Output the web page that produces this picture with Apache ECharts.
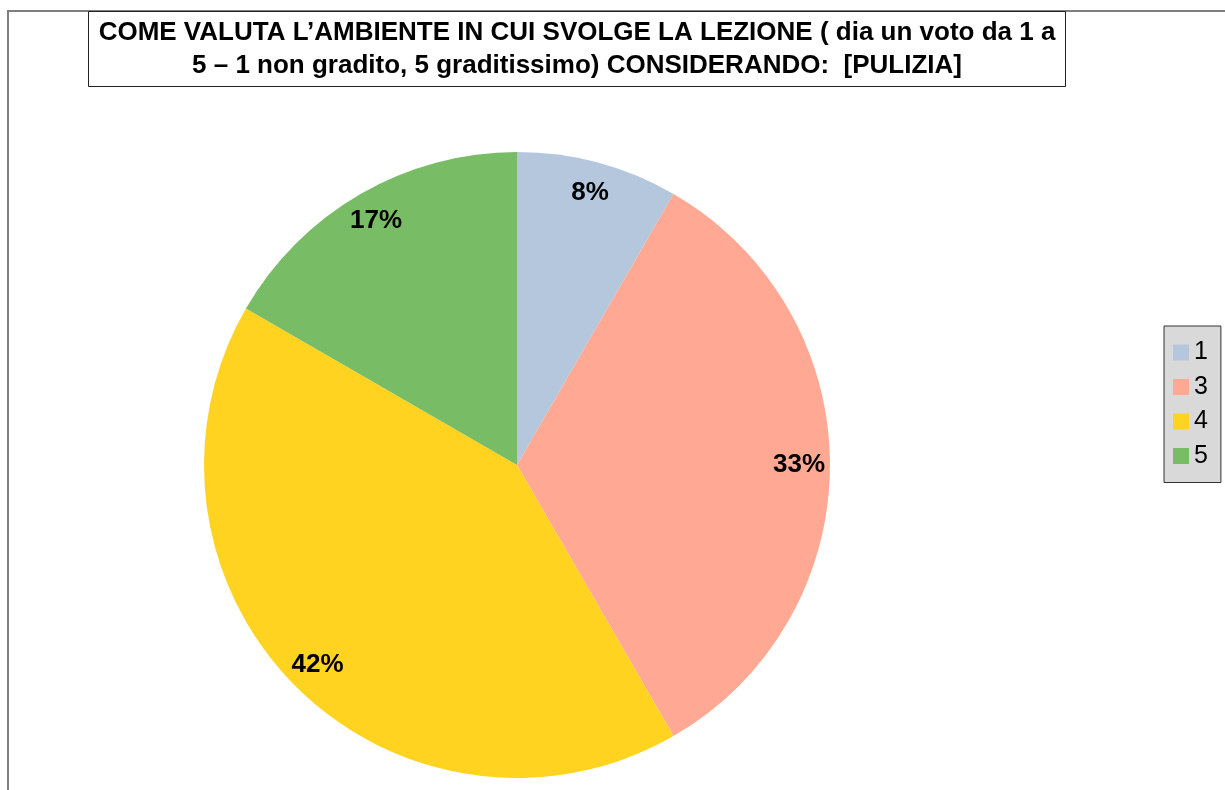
<!DOCTYPE html>
<html>
<head>
<meta charset="utf-8">
<script src="https://cdn.jsdelivr.net/npm/echarts@6/dist/echarts.min.js"></script>
<style>
  html, body { margin: 0; padding: 0; background: #fff; }
  #main { width: 1225px; height: 790px; }
</style>
</head>
<body>
<div id="main"></div>
<script>
// voti e numero di risposte (1/12, 4/12, 5/12, 2/12)
const voti = ['1', '3', '4', '5'];
const risposte = [1, 4, 5, 2];
const colori = ['#b4c7dc', '#ffa994', '#ffd320', '#78bc65'];

const titolo = 'COME VALUTA L\u2019AMBIENTE IN CUI SVOLGE LA LEZIONE ( dia un voto da 1 a\n5 \u2013 1 non gradito, 5 graditissimo) CONSIDERANDO:  [PULIZIA]';

const dati = voti.map((v, i) => ({ name: v, value: risposte[i], itemStyle: { color: colori[i] } }));

let myChart = echarts.init(document.getElementById('main'));
let option = {
    animation: false,
    textStyle: { fontFamily: 'Liberation Sans, Arial, sans-serif' },
    graphic: [{
        // cornice esterna
        type: 'polyline',
        shape: { points: [[8, 790], [8, 11], [1225, 11]] },
        style: { stroke: '#7f7f7f', lineWidth: 2, fill: null },
        z: 0
    }],
    title: {
        text: titolo,
        left: 567,
        top: 11,
        textAlign: 'center',
        padding: [5, 10, 5, 10],
        borderColor: '#222',
        borderWidth: 1,
        backgroundColor: '#fff',
        textStyle: {
            fontFamily: 'Liberation Sans, Arial, sans-serif',
            fontSize: 26,
            fontWeight: 'bold',
            color: '#000',
            lineHeight: 33
        }
    },
    legend: {
        orient: 'vertical',
        left: 1164,
        top: 326,
        data: voti,
        itemWidth: 16,
        itemHeight: 16,
        itemGap: 9.5,
        padding: [14, 13, 14, 9],
        backgroundColor: '#d9d9d9',
        borderColor: '#333',
        borderWidth: 1,
        icon: 'rect',
        selectedMode: false,
        textStyle: {
            fontFamily: 'Liberation Sans, Arial, sans-serif',
            fontSize: 25,
            lineHeight: 25,
            color: '#000'
        }
    },
    series: [{
        type: 'pie',
        center: [517, 465],
        radius: [0, 313],
        startAngle: 90,
        clockwise: true,
        data: dati,
        label: { show: false },
        labelLine: { show: false },
        emphasis: { disabled: true }
    }, {
        // anello trasparente usato solo per le percentuali
        type: 'pie',
        center: [517, 465],
        radius: [245, 313],
        startAngle: 90,
        clockwise: true,
        silent: true,
        data: voti.map((v, i) => ({ name: v, value: risposte[i] })),
        itemStyle: { color: 'rgba(0,0,0,0)' },
        label: {
            show: true,
            position: 'inside',
            formatter: p => Math.round(p.percent) + '%',
            fontFamily: 'Liberation Sans, Arial, sans-serif',
            fontSize: 26,
            fontWeight: 'bold',
            color: '#000'
        },
        labelLine: { show: false },
        emphasis: { disabled: true }
    }]
};
myChart.setOption(option);
</script>
</body>
</html>
